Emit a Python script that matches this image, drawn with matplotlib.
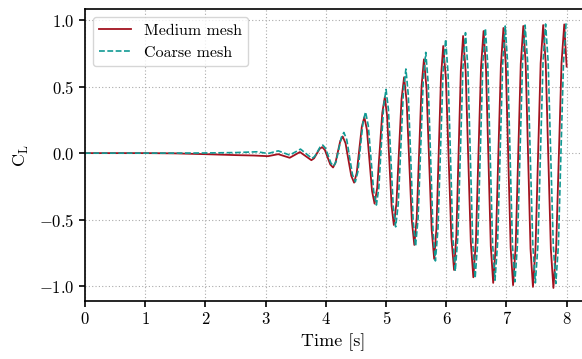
import matplotlib

matplotlib.use("Agg")
import matplotlib.pyplot as plt

plt.rcParams["font.family"] = "serif"
plt.rcParams["font.serif"] = ["cmr10", "DejaVu Serif"]
plt.rcParams["mathtext.fontset"] = "cm"
plt.rcParams["axes.formatter.use_mathtext"] = True
plt.rcParams["font.size"] = 12

# Medium mesh lift coefficient
medium_time = [
    0.0, 1.0, 1.5, 2.0, 2.5, 2.8, 3.04, 3.21, 3.40, 3.57, 3.76,
    3.805, 3.85, 3.895, 3.94, 3.985, 4.03, 4.075, 4.12,
    4.16, 4.20, 4.24, 4.28, 4.328, 4.375, 4.423, 4.47,
    4.513, 4.555, 4.598, 4.64, 4.683, 4.725, 4.768, 4.81,
    4.853, 4.895, 4.938, 4.98, 5.018, 5.055, 5.093, 5.13,
    5.173, 5.215, 5.258, 5.30, 5.343, 5.385, 5.428, 5.47,
    5.51, 5.55, 5.59, 5.63, 5.673, 5.715, 5.758, 5.80,
    5.838, 5.875, 5.913, 5.95, 5.995, 6.04, 6.085, 6.13,
    6.168, 6.205, 6.243, 6.28, 6.323, 6.365, 6.408, 6.45,
    6.493, 6.535, 6.578, 6.62, 6.66, 6.70, 6.74, 6.78,
    6.823, 6.865, 6.908, 6.95, 6.99, 7.03, 7.07, 7.11,
    7.153, 7.195, 7.238, 7.28, 7.32, 7.36, 7.40, 7.44,
    7.483, 7.525, 7.568, 7.61, 7.653, 7.695, 7.738, 7.78,
    7.825, 7.87, 7.915, 7.96, 8.0,
]
medium_cl = [
    0.0, 0.0, -0.002, -0.008, -0.015, -0.018, -0.023, -0.008, -0.035, 0.008, -0.053,
    -0.039, -0.004, 0.031, 0.045, 0.023, -0.032, -0.086, -0.108,
    -0.074, 0.009, 0.091, 0.125, 0.074, -0.049, -0.171, -0.222,
    -0.150, 0.024, 0.198, 0.270, 0.175, -0.055, -0.285, -0.380,
    -0.263, 0.020, 0.303, 0.420, 0.279, -0.060, -0.399, -0.540,
    -0.377, 0.015, 0.407, 0.570, 0.385, -0.060, -0.505, -0.690,
    -0.486, 0.008, 0.501, 0.705, 0.485, -0.045, -0.575, -0.795,
    -0.561, 0.005, 0.571, 0.805, 0.558, -0.037, -0.632, -0.878,
    -0.620, 0.001, 0.622, 0.880, 0.614, -0.027, -0.667, -0.933,
    -0.662, -0.008, 0.646, 0.917, 0.640, -0.029, -0.698, -0.975,
    -0.695, -0.018, 0.660, 0.940, 0.657, -0.026, -0.709, -0.992,
    -0.707, -0.019, 0.670, 0.955, 0.668, -0.025, -0.718, -1.005,
    -0.717, -0.022, 0.674, 0.962, 0.673, -0.026, -0.724, -1.013,
    -0.723, -0.023, 0.677, 0.967, 0.650,
]

# Coarse mesh lift coefficient
coarse_time = [
    0.0, 1.0, 1.5, 2.0, 2.5, 2.86, 3.04, 3.21, 3.40, 3.58, 3.77,
    3.815, 3.86, 3.905, 3.95, 3.995, 4.04, 4.085, 4.13,
    4.173, 4.215, 4.258, 4.30, 4.348, 4.395, 4.443, 4.49,
    4.533, 4.575, 4.618, 4.66, 4.705, 4.75, 4.795, 4.84,
    4.88, 4.92, 4.96, 5.00, 5.04, 5.08, 5.12, 5.16,
    5.203, 5.245, 5.288, 5.33, 5.37, 5.41, 5.45, 5.49,
    5.533, 5.575, 5.618, 5.66, 5.70, 5.74, 5.78, 5.82,
    5.863, 5.905, 5.948, 5.99, 6.03, 6.07, 6.11, 6.15,
    6.193, 6.235, 6.278, 6.32, 6.36, 6.40, 6.44, 6.48,
    6.523, 6.565, 6.608, 6.65, 6.69, 6.73, 6.77, 6.81,
    6.853, 6.895, 6.938, 6.98, 7.02, 7.06, 7.10, 7.14,
    7.183, 7.225, 7.268, 7.31, 7.353, 7.395, 7.438, 7.48,
    7.523, 7.565, 7.608, 7.65, 7.693, 7.735, 7.778, 7.82,
    7.863, 7.905, 7.948, 7.99,
]
coarse_cl = [
    0.0, 0.0, 0.0, 0.001, 0.004, 0.010, -0.003, 0.017, -0.015, 0.030, -0.040,
    -0.025, 0.010, 0.045, 0.060, 0.037, -0.019, -0.075, -0.098,
    -0.061, 0.029, 0.118, 0.155, 0.101, -0.031, -0.162, -0.216,
    -0.139, 0.047, 0.233, 0.310, 0.207, -0.040, -0.287, -0.390,
    -0.263, 0.045, 0.352, 0.479, 0.328, -0.038, -0.403, -0.554,
    -0.380, 0.039, 0.458, 0.632, 0.437, -0.034, -0.505, -0.700,
    -0.487, 0.029, 0.544, 0.757, 0.527, -0.027, -0.580, -0.810,
    -0.566, 0.023, 0.611, 0.855, 0.600, -0.016, -0.632, -0.887,
    -0.624, 0.009, 0.642, 0.905, 0.635, -0.018, -0.670, -0.940,
    -0.665, -0.002, 0.662, 0.937, 0.660, -0.009, -0.678, -0.955,
    -0.675, 0.000, 0.675, 0.955, 0.673, -0.006, -0.685, -0.967,
    -0.685, -0.003, 0.680, 0.962, 0.678, -0.007, -0.691, -0.975,
    -0.691, -0.003, 0.686, 0.970, 0.684, -0.005, -0.694, -0.980,
    -0.694, -0.003, 0.688, 0.975,
]

x_ticks = [0, 1, 2, 3, 4, 5, 6, 7, 8]
y_ticks = [-1.0, -0.5, 0.0, 0.5, 1.0]

fig = plt.figure(figsize=(5.82, 3.59), dpi=100)
ax = fig.add_axes([0.146, 0.162, 0.854, 0.813])

ax.plot(medium_time, medium_cl, color="#a3121f", linewidth=1.3, label="Medium mesh")
ax.plot(coarse_time, coarse_cl, color="#119a94", linewidth=1.2, linestyle="--",
        dashes=(3.5, 1.5), label="Coarse mesh")

ax.set_xlim(0, 8.255)
ax.set_ylim(-1.11, 1.083)
ax.set_xticks(x_ticks)
ax.set_yticks(y_ticks)
ax.set_xticklabels([str(t) for t in x_ticks])
ax.set_yticklabels(["$-1.0$", "$-0.5$", "$0.0$", "$0.5$", "$1.0$"])

ax.grid(True, linestyle=(0, (1, 2)), color="#aaaaaa", linewidth=0.8)
ax.tick_params(direction="out", length=4, width=1.2, labelsize=12)
for side in ["left", "bottom", "top"]:
    ax.spines[side].set_linewidth(1.2)
ax.spines["right"].set_visible(False)

ax.set_xlabel("Time [s]", fontsize=13, labelpad=5)
ax.set_ylabel(r"$\mathrm{C_L}$", fontsize=13, labelpad=6)
ax.legend(loc="upper left", fancybox=True, framealpha=0.8, edgecolor="#cccccc",
          fontsize=11.5)

fig.savefig("out.png", dpi=100)
